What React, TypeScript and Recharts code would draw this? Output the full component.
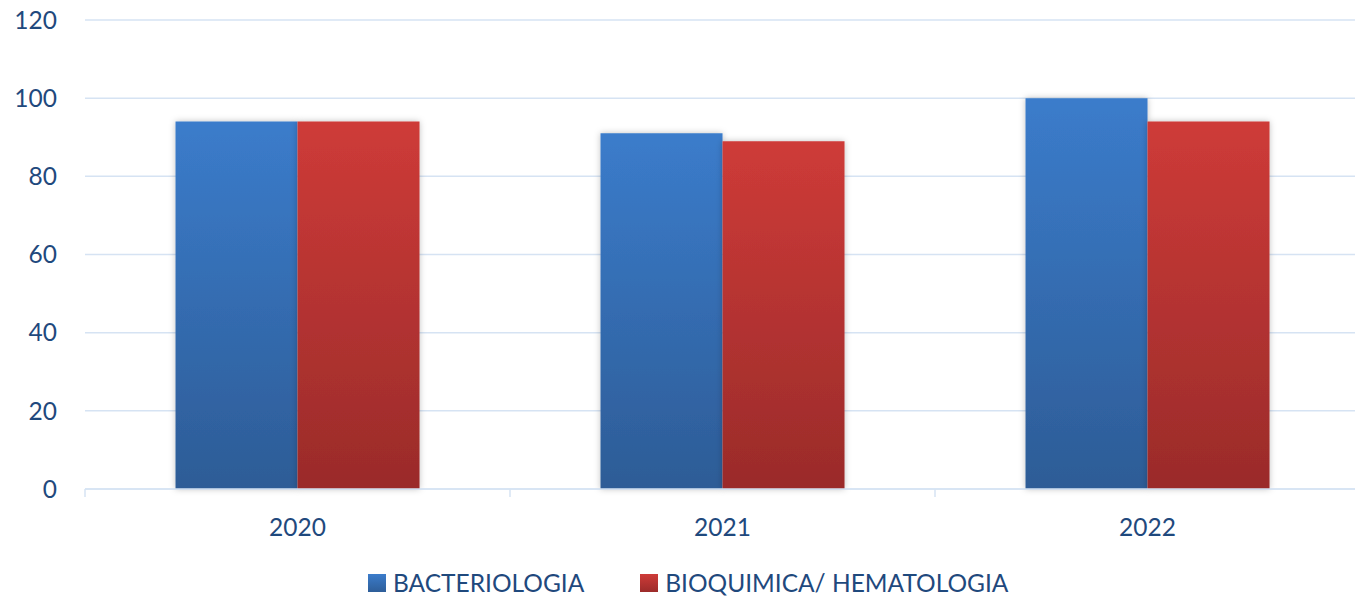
import { BarChart, Bar, XAxis, YAxis, CartesianGrid, Legend } from "recharts";

const years = ["2020", "2021", "2022"];
const bacteriologia = [94, 91, 100];
const bioquimica = [94, 89, 94];
const yTicks = [0, 20, 40, 60, 80, 100, 120];

const seriesNames = ["BACTERIOLOGIA", "BIOQUIMICA/ HEMATOLOGIA"];

const chartData = years.map((year, i) => ({
  year,
  [seriesNames[0]]: bacteriologia[i],
  [seriesNames[1]]: bioquimica[i],
}));

const TEXT_COLOR = "#1F497D";
const FONT = "Lato, 'Open Sans', sans-serif";
const GRID = "#D6E3F3";

// a bit wider than the window: the last category runs off the right edge like in the original
const WIDTH = 1360;
const HEIGHT = 600;
const Y_AXIS_W = 85;
const bandWidth = (WIDTH - Y_AXIS_W) / years.length;

// year label plus the little boundary tick at the left edge of each category
// (y here is already 8px below the axis line: tickSize + tickMargin)
const YearTick = (props: any) => {
  const { x, y, payload } = props;
  const left = x - bandWidth / 2;
  return (
    <g>
      <line x1={left} y1={y - 8} x2={left} y2={y} stroke={GRID} strokeWidth={1.5} />
      <text x={x} y={y + 39} textAnchor="middle" fill={TEXT_COLOR} fontSize={24.5} fontFamily={FONT}>
        {payload.value}
      </text>
    </g>
  );
};

const LegendContent = () => (
  <div style={{ display: "flex", alignItems: "center", paddingLeft: 368, paddingTop: 22, fontFamily: FONT, fontSize: 24.5, color: TEXT_COLOR, lineHeight: "24px" }}>
    <span style={{ width: 18, height: 18, background: "linear-gradient(#3B7CCB, #2E5E99)", display: "inline-block", marginRight: 7 }} />
    <span style={{ marginRight: 56 }}>{seriesNames[0]}</span>
    <span style={{ width: 18, height: 18, background: "linear-gradient(#CE3B38, #9C2B2A)", display: "inline-block", marginRight: 7 }} />
    <span>{seriesNames[1]}</span>
  </div>
);

export default function App() {
  return (
    <div style={{ position: "absolute", left: 0, top: 0, width: 1355, height: HEIGHT, overflow: "hidden", background: "#fff" }}>
      <BarChart
        width={WIDTH}
        height={HEIGHT}
        data={chartData}
        margin={{ top: 20, right: 0, left: 0, bottom: 0 }}
        barCategoryGap="21.3%"
        barGap={0}
      >
        <defs>
          <linearGradient id="gradBlue" x1="0" y1="0" x2="0" y2="1">
            <stop offset="0%" stopColor="#3B7CCB" />
            <stop offset="100%" stopColor="#2D5C96" />
          </linearGradient>
          <linearGradient id="gradRed" x1="0" y1="0" x2="0" y2="1">
            <stop offset="0%" stopColor="#CE3B38" />
            <stop offset="100%" stopColor="#9A2B2A" />
          </linearGradient>
          <filter id="barShadow" x="-10%" y="-10%" width="120%" height="120%">
            <feDropShadow dx="0" dy="0" stdDeviation="3" floodColor="#000" floodOpacity="0.25" />
          </filter>
        </defs>
        <CartesianGrid vertical={false} stroke={GRID} strokeWidth={1.5} />
        <XAxis
          dataKey="year"
          height={60}
          axisLine={{ stroke: GRID, strokeWidth: 1.5 }}
          tickLine={false}
          tick={<YearTick />}
          interval={0}
        />
        <YAxis
          width={Y_AXIS_W}
          domain={[0, 120]}
          ticks={yTicks}
          axisLine={false}
          tickLine={false}
          tickMargin={22}
          tick={{ fill: TEXT_COLOR, fontSize: 24.5, fontFamily: FONT }}
        />
        <Legend verticalAlign="bottom" height={51} content={<LegendContent />} wrapperStyle={{ left: 0, width: 1355 }} />
        <Bar dataKey={seriesNames[0]} fill="url(#gradBlue)" filter="url(#barShadow)" isAnimationActive={false} />
        <Bar dataKey={seriesNames[1]} fill="url(#gradRed)" filter="url(#barShadow)" isAnimationActive={false} />
      </BarChart>
    </div>
  );
}
